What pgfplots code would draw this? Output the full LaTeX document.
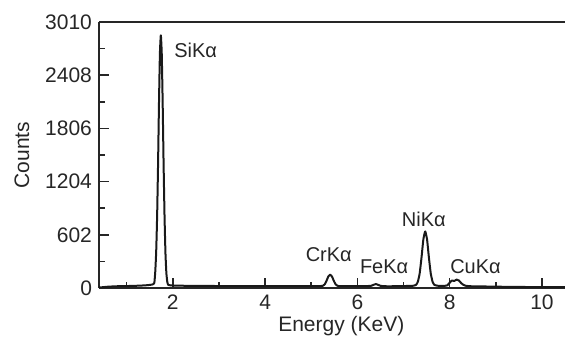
\documentclass[border=0pt]{standalone}
\usepackage{pgfplots}
\pgfplotsset{compat=1.18}
\usepackage{fontspec}
\setmainfont{Liberation Sans}
\begin{document}
\begin{tikzpicture}
\begin{axis}[
  at={(0,0)}, anchor=south west,
  scale only axis, width=233pt, height=133pt,
  xmin=0.4, xmax=10.5, ymin=0, ymax=3010,
  axis x line=box, axis y line=left,
  axis line style={-, line width=0.8pt, black!85},
  xtick={2,4,6,8,10}, minor xtick={1,3,5,7,9},
  ytick={0,602,1204,1806,2408,3010}, minor ytick={301,903,1505,2107,2709},
  xtick pos=bottom, ytick pos=left,
  tick align=inside,
  major tick length=5pt, minor tick length=3pt,
  every tick/.style={black!85, line width=0.8pt},
  tick label style={font=\fontsize{10.5}{12}\selectfont, black!85},
  /pgf/number format/assume math mode=true,
  /pgf/number format/set thousands separator={},
  xlabel={Energy (KeV)}, ylabel={Counts},
  xlabel style={at={(rel axis cs:0.52,0)}, anchor=center, yshift=-19pt, font=\fontsize{10.5}{12}\selectfont, black!85},
  ylabel style={at={(rel axis cs:0,0.5)}, anchor=center, yshift=38.5pt, font=\fontsize{10.5}{12}\selectfont, black!85},
  clip=false,
]
\addplot[black!90, line width=1pt, line join=round, smooth, tension=0.3] coordinates {
(0.40,5) (0.60,15) (0.80,20) (1.00,22) (1.20,25) (1.40,30) (1.50,35) (1.56,40)
(1.58,45) (1.60,60) (1.62,190) (1.64,420) (1.66,820) (1.68,1400) (1.70,2090) (1.72,2650)
(1.74,2860) (1.76,2650) (1.78,2090) (1.80,1400) (1.82,820) (1.84,400) (1.86,170) (1.88,70) (1.90,35)
(1.95,30) (2.00,28) (2.30,25) (2.60,25) (3.00,22) (3.50,20) (4.00,20) (4.50,20) (5.00,22) (5.20,22)
(5.25,25) (5.29,40) (5.33,80) (5.37,130) (5.41,150) (5.45,130) (5.49,80) (5.53,40) (5.57,25)
(5.60,22) (5.80,20) (6.00,20) (6.20,22) (6.30,25) (6.40,45) (6.50,25) (6.60,20) (6.80,20) (7.00,22) (7.20,25)
(7.27,35) (7.31,70) (7.35,165) (7.39,345) (7.43,550) (7.47,640) (7.51,550) (7.55,345) (7.59,165) (7.63,70) (7.67,35)
(7.75,25) (7.90,25) (7.95,30) (8.00,60) (8.05,85) (8.10,80) (8.15,95) (8.20,85) (8.25,55) (8.30,35) (8.35,25)
(8.45,20) (8.70,18) (9.00,15) (9.50,12) (10.00,10) (10.50,10)
};
\node[anchor=west, font=\fontsize{10}{12}\selectfont, black!85] at (axis cs:1.88,2693) {SiKα};
\node[font=\fontsize{10}{12}\selectfont, black!85] at (axis cs:5.38,379) {CrKα};
\node[font=\fontsize{10}{12}\selectfont, black!85] at (axis cs:6.58,238) {FeKα};
\node[font=\fontsize{10}{12}\selectfont, black!85] at (axis cs:7.44,775) {NiKα};
\node[font=\fontsize{10}{12}\selectfont, black!85] at (axis cs:8.56,238) {CuKα};
\end{axis}
\pgfresetboundingbox
\useasboundingbox (-49.5pt,-24.5pt) rectangle (233pt,144pt);
\end{tikzpicture}
\end{document}
